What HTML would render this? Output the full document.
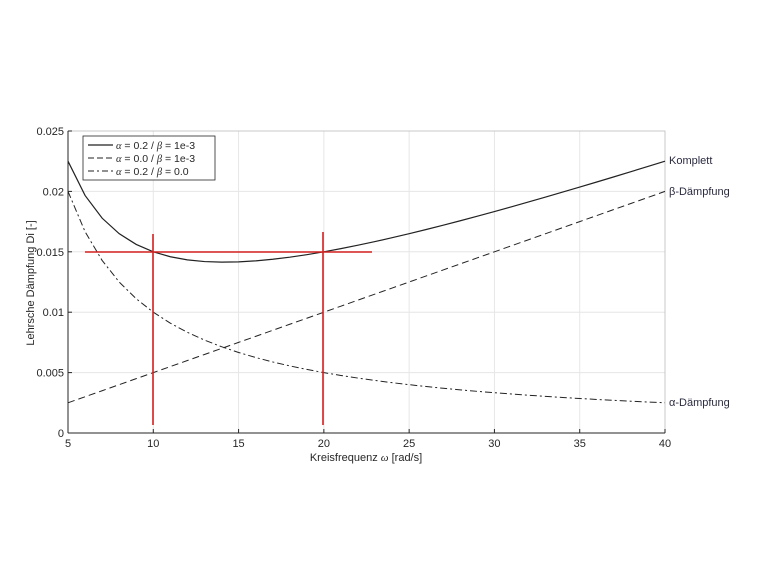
<!DOCTYPE html>
<html><head><meta charset="utf-8"><style>
body{margin:0;background:#fff;}
svg{display:block;font-family:"Liberation Sans",sans-serif;}
</style></head><body>
<svg id="s" width="760" height="570" xmlns="http://www.w3.org/2000/svg">
<g id="grid" stroke="#e6e6e6" stroke-width="1"></g>
<rect x="68" y="131" width="597" height="302" fill="none" stroke="#bbb" stroke-width="0.8"/>
<line x1="68" y1="131" x2="68" y2="433" stroke="#262626"/>
<line x1="68" y1="433" x2="665" y2="433" stroke="#262626"/>
<g id="ticks" stroke="#262626"></g>
<g id="lab" font-size="11" fill="#262626"></g>
<path id="c1" fill="none" stroke="#222" stroke-width="1.2"/>
<path id="c2" fill="none" stroke="#222" stroke-width="1" stroke-dasharray="7,4"/>
<path id="c3" fill="none" stroke="#222" stroke-width="1" stroke-dasharray="7,3,2,3"/>
<g stroke="#d42020" stroke-width="1.6">
<line x1="153" y1="234" x2="153" y2="425"/>
<line x1="323" y1="232" x2="323" y2="425"/>
<line x1="85" y1="252" x2="372" y2="252"/>
</g>
<rect x="83" y="136" width="132" height="44" fill="#fff" stroke="#262626" stroke-width="0.8"/>
<g stroke="#222">
<line x1="88" y1="145" x2="113" y2="145" stroke-width="1.2"/>
<line x1="88" y1="158" x2="113" y2="158" stroke-dasharray="6,3"/>
<line x1="88" y1="171" x2="113" y2="171" stroke-dasharray="6,3,2,3"/>
</g>
<g font-size="10.5" fill="#262626">
<text x="116" y="149"><tspan font-family="Liberation Serif" font-style="italic">α</tspan> = 0.2 / <tspan font-family="Liberation Serif" font-style="italic">β</tspan> = 1e-3</text>
<text x="116" y="162"><tspan font-family="Liberation Serif" font-style="italic">α</tspan> = 0.0 / <tspan font-family="Liberation Serif" font-style="italic">β</tspan> = 1e-3</text>
<text x="116" y="175"><tspan font-family="Liberation Serif" font-style="italic">α</tspan> = 0.2 / <tspan font-family="Liberation Serif" font-style="italic">β</tspan> = 0.0</text>
</g>
<g font-size="11" fill="#2a2a40">
<text x="669" y="164">Komplett</text>
<text x="669" y="195">β-Dämpfung</text>
<text x="669" y="406">α-Dämpfung</text>
</g>
<text x="366" y="461" font-size="11" text-anchor="middle" fill="#262626">Kreisfrequenz <tspan font-family="Liberation Serif" font-style="italic">ω</tspan> [rad/s]</text>
<text transform="translate(34,283) rotate(-90)" font-size="11" text-anchor="middle" fill="#262626">Lehrsche Dämpfung Di [-]</text>
</svg>
<script>
var X=function(w){return 68+(w-5)*597/35},Y=function(d){return 433-d*302/0.025};
var ns="http://www.w3.org/2000/svg";
function el(p,t,a,txt){var e=document.createElementNS(ns,t);for(var k in a)e.setAttribute(k,a[k]);if(txt)e.textContent=txt;document.getElementById(p).appendChild(e);}
for(var w=5;w<=40;w+=5){var x=X(w);if(w>5&&w<40)el("grid","line",{x1:x,y1:131,x2:x,y2:433});el("ticks","line",{x1:x,y1:433,x2:x,y2:429});el("lab","text",{x:x,y:447,"text-anchor":"middle"},""+w);}
var yl=["0","0.005","0.01","0.015","0.02","0.025"];
for(var i=0;i<6;i++){var y=Y(i*0.005);if(i>0&&i<5)el("grid","line",{x1:68,y1:y,x2:665,y2:y});el("ticks","line",{x1:68,y1:y,x2:72,y2:y});el("lab","text",{x:64,y:y+4,"text-anchor":"end"},yl[i]);}
var p1="",p2="",p3="";
for(var w=5;w<=40;w+=1){var c=w==5?"M":"L";p1+=c+X(w)+","+Y(0.1/w+0.0005*w);p2+=c+X(w)+","+Y(0.0005*w);p3+=c+X(w)+","+Y(0.1/w);}
document.getElementById("c1").setAttribute("d",p1);document.getElementById("c2").setAttribute("d",p2);document.getElementById("c3").setAttribute("d",p3);
</script>
</body></html>
